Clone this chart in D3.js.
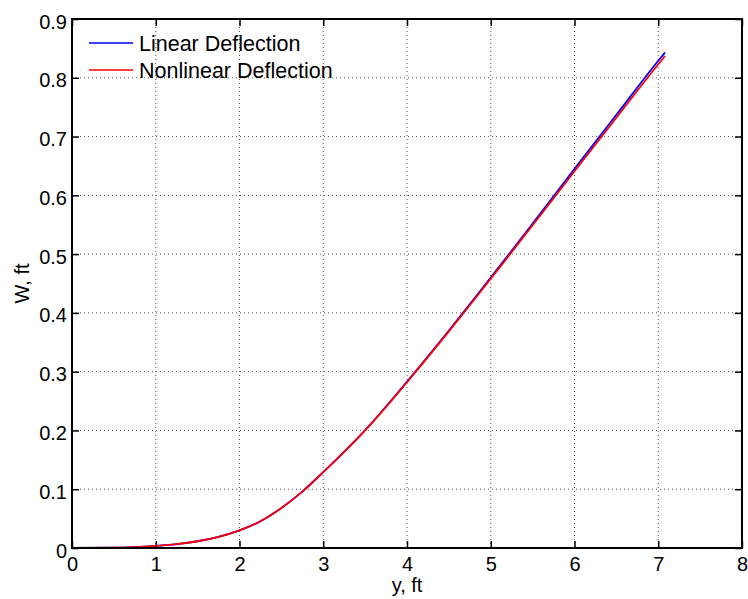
<!DOCTYPE html>
<html>
<head>
<meta charset="utf-8">
<script src="https://cdn.jsdelivr.net/npm/d3@7"></script>
<style>
  body { margin: 0; background: #fff; }
  svg { display: block; font-family: "Liberation Sans", Arial, Helvetica, sans-serif; }
</style>
</head>
<body>
<svg id="chart" width="748" height="599"></svg>
<script>
// values
var spanY = [0, 0.5, 1, 1.25, 1.5, 1.75, 2, 2.25, 2.5, 2.75, 3, 3.5, 4, 4.5, 5, 5.5, 6, 6.5, 7, 7.08];
var linearW = [0, 0.0004, 0.0035, 0.0065, 0.0115, 0.019, 0.03, 0.0455, 0.068, 0.096, 0.129, 0.2005, 0.283, 0.37, 0.46, 0.552, 0.645, 0.737, 0.829, 0.843];
var nonlinearW = [0, 0.0004, 0.0035, 0.0065, 0.0115, 0.019, 0.03, 0.0455, 0.068, 0.096, 0.129, 0.2, 0.282, 0.3685, 0.458, 0.549, 0.641, 0.732, 0.823, 0.837];
var xTicks = [0, 1, 2, 3, 4, 5, 6, 7, 8];
var yTicks = [0, 0.1, 0.2, 0.3, 0.4, 0.5, 0.6, 0.7, 0.8, 0.9];
var seriesNames = ["Linear Deflection", "Nonlinear Deflection"];
var seriesColors = ["#0000ff", "#ff0000"];

var svg = d3.select("#chart"),
    margin = {top: 19, right: 6, bottom: 51, left: 72},
    width = 748 - margin.left - margin.right,
    height = 599 - margin.top - margin.bottom;

var x = d3.scaleLinear().domain([0, 8]).range([0, width]);
var y = d3.scaleLinear().domain([0, 0.9]).range([height, 0]);

var g = svg.append("g")
    .attr("transform", "translate(" + margin.left + "," + margin.top + ")");

// dotted grid
g.append("g").selectAll("line")
    .data(xTicks.slice(1, -1))
    .enter().append("line")
    .attr("x1", function(d) { return x(d); })
    .attr("x2", function(d) { return x(d); })
    .attr("y1", 0).attr("y2", height)
    .attr("stroke", "#555").attr("stroke-width", 1)
    .attr("stroke-dasharray", "1,3");

g.append("g").selectAll("line")
    .data(yTicks.slice(1, -1))
    .enter().append("line")
    .attr("y1", function(d) { return y(d); })
    .attr("y2", function(d) { return y(d); })
    .attr("x1", 0).attr("x2", width)
    .attr("stroke", "#555").attr("stroke-width", 1)
    .attr("stroke-dasharray", "1,3");

// lines
var series = [linearW, nonlinearW];
var line = d3.line()
    .x(function(d, i) { return x(spanY[i]); })
    .y(function(d) { return y(d); })
    .curve(d3.curveMonotoneX);

series.forEach(function(s, i) {
    g.append("path")
        .datum(s)
        .attr("fill", "none")
        .attr("stroke", seriesColors[i])
        .attr("stroke-width", 1.8)
        .attr("d", line);
});

// axes (ticks inward, box all round)
function styleAxis(sel) {
    sel.select(".domain").remove();
    sel.selectAll(".tick line").attr("stroke", "#000").attr("stroke-width", 1.5);
    sel.selectAll("text").attr("font-size", "20px").attr("fill", "#000");
}

g.append("g")
    .attr("transform", "translate(0," + height + ")")
    .call(d3.axisBottom(x).tickValues(xTicks).tickFormat(d3.format("d")).tickSizeInner(-7).tickPadding(9))
    .call(styleAxis);

g.append("g")
    .call(d3.axisTop(x).tickValues(xTicks).tickFormat("").tickSizeInner(-7))
    .call(styleAxis);

g.append("g")
    .call(d3.axisLeft(y).tickValues(yTicks).tickFormat(function(d) { return d === 0 ? "0" : d3.format(".1f")(d); }).tickSizeInner(-7).tickPadding(5))
    .call(styleAxis)
    .selectAll("text").attr("dy", "0.45em");

g.append("g")
    .attr("transform", "translate(" + width + ",0)")
    .call(d3.axisRight(y).tickValues(yTicks).tickFormat("").tickSizeInner(-7))
    .call(styleAxis);

g.append("rect")
    .attr("width", width).attr("height", height)
    .attr("fill", "none").attr("stroke", "#000").attr("stroke-width", 2);

// labels
svg.append("text")
    .attr("x", margin.left + x(4))
    .attr("y", 592)
    .attr("text-anchor", "middle")
    .attr("font-size", "20px")
    .text("y, ft");

svg.append("text")
    .attr("transform", "translate(29," + (margin.top + height / 2) + ") rotate(-90)")
    .attr("text-anchor", "middle")
    .attr("font-size", "20px")
    .text("W, ft");

// legend (no box)
var legend = g.append("g").attr("transform", "translate(17,24)");
seriesNames.forEach(function(name, i) {
    var row = legend.append("g").attr("transform", "translate(0," + (i * 27) + ")");
    row.append("line")
        .attr("x1", 0).attr("x2", 44)
        .attr("stroke", seriesColors[i]).attr("stroke-width", 1.5);
    row.append("text")
        .attr("x", 50).attr("y", 8)
        .attr("font-size", "21.5px")
        .text(name);
});
</script>
</body>
</html>
